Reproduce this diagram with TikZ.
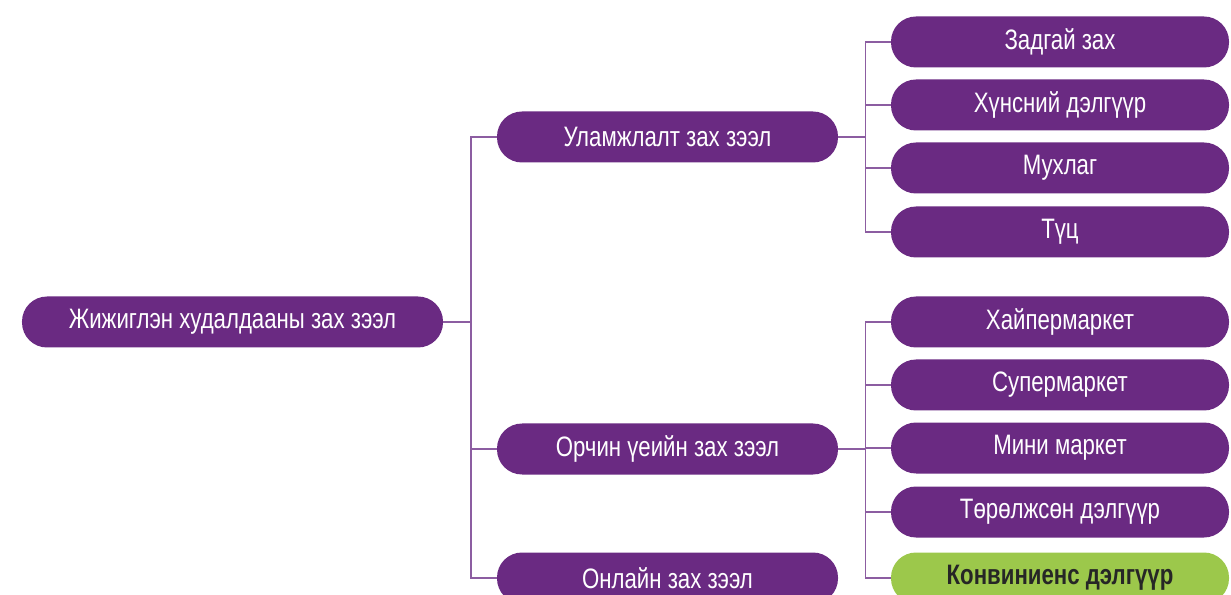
\documentclass[tikz,border=0pt]{standalone}
\usepackage{fontspec}
\setmainfont{Liberation Sans}[FakeStretch=0.79]
\definecolor{plum}{HTML}{6A2A82}
\definecolor{lime}{HTML}{9CC84B}
\definecolor{wire}{HTML}{8C5DA1}
\begin{document}
\begin{tikzpicture}[
  pill/.style={draw=none,fill=plum,text=white,rounded corners=0.5cm,minimum height=1.02cm,font=\fontsize{16}{19}\selectfont},
  rootpill/.style={pill,minimum width=8.42cm},
  midpill/.style={pill,minimum width=6.82cm},
  leafpill/.style={pill,minimum width=6.76cm},
  hotpill/.style={fill=lime,text=black!85,font=\fontsize{16}{19}\selectfont\bfseries},
  link/.style={draw=wire,line width=0.9pt}
  ]
	\useasboundingbox (0,0) rectangle (24.62,-11.9);
	\clip (0,0) rectangle (24.62,-11.9);

	\node[rootpill] (root) at (4.65,-6.44) {Жижиглэн худалдааны зах зээл};

	\node[midpill] (trad) at (13.35,-2.74) {Уламжлалт зах зээл};
	\node[midpill] (modern) at (13.35,-8.98) {Орчин үеийн зах зээл};
	\node[midpill] (online) at (13.35,-11.56) {Онлайн зах зээл};

	\node[leafpill] (open) at (21.2,-0.84) {Задгай зах};
	\node[leafpill] (food) at (21.2,-2.10) {Хүнсний дэлгүүр};
	\node[leafpill] (kiosk) at (21.2,-3.36) {Мухлаг};
	\node[leafpill] (stall) at (21.2,-4.64) {Түц};

	\node[leafpill] (hyper) at (21.2,-6.44) {Хайпермаркет};
	\node[leafpill] (super) at (21.2,-7.70) {Супермаркет};
	\node[leafpill] (mini) at (21.2,-8.96) {Мини маркет};
	\node[leafpill] (special) at (21.2,-10.24) {Төрөлжсөн дэлгүүр};
	\node[leafpill,hotpill] (conv) at (21.2,-11.56) {Конвиниенс дэлгүүр};

	\foreach \n in {trad,modern,online}
		\draw[link] (root.east) -- ++(0.55,0) |- (\n.west);
	\foreach \n in {open,food,kiosk,stall}
		\draw[link] (trad.east) -- ++(0.54,0) |- (\n.west);
	\foreach \n in {hyper,super,mini,special,conv}
		\draw[link] (modern.east) -- ++(0.54,0) |- (\n.west);
\end{tikzpicture}
\end{document}
